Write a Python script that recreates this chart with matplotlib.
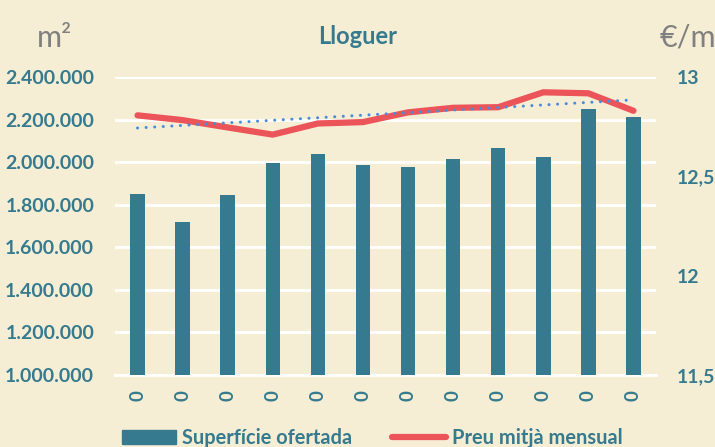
import numpy as np
import matplotlib.pyplot as plt
from matplotlib.ticker import FuncFormatter
from matplotlib.lines import Line2D
import matplotlib.patches as mpatches

# values
categories = ['0'] * 12
superficie = [1849000, 1721000, 1845000, 1995000, 2036000, 1986000,
              1977000, 2017000, 2065000, 2026000, 2252000, 2214000]
preu = [12.807, 12.783, 12.746, 12.71, 12.766, 12.773,
        12.822, 12.845, 12.848, 12.923, 12.918, 12.83]
left_ticks = [1000000, 1200000, 1400000, 1600000, 1800000, 2000000, 2200000, 2400000]
right_ticks = [11.5, 12, 12.5, 13]
right_labels = ['11,5', '12', '12,5', '13']

bg = '#F6EED4'
teal = '#357A8E'
red = '#EB5459'
blue = '#4A8BDB'

plt.rcParams['font.family'] = ['Lato', 'DejaVu Sans']

fig = plt.figure(figsize=(7.15, 4.47), dpi=100, facecolor=bg)
ax = fig.add_axes([115/715, 1-375/447, 541/715, 298/447])
ax.set_facecolor(bg)

x = np.arange(len(categories))
ax.bar(x, superficie, 0.32, color=teal, zorder=3)
ax.set_ylim(1000000, 2400000)
ax.set_xlim(-0.5, len(categories) - 0.5)
ax.set_yticks(left_ticks)
ax.yaxis.set_major_formatter(FuncFormatter(lambda v, p: f'{int(v):,}'.replace(',', '.')))
ax.grid(axis='y', color='white', lw=2, zorder=0)
ax.set_xticks(x)
ax.set_xticklabels(categories, rotation=90, fontsize=13.5, fontweight='bold', color=teal)
ax.tick_params(axis='both', length=0)
ax.tick_params(axis='y', labelsize=14, labelcolor=teal, pad=15)
ax.tick_params(axis='x', pad=11)
for lab in ax.get_yticklabels():
    lab.set_fontweight('bold')
for s in ['top', 'left', 'right']:
    ax.spines[s].set_visible(False)
ax.spines['bottom'].set_color('white')
ax.spines['bottom'].set_linewidth(2)

ax2 = ax.twinx()
ax2.plot(x, preu, color=red, lw=4.5, solid_capstyle='round', solid_joinstyle='round', zorder=4)
coef = np.polyfit(x, preu, 1)
ax2.plot(x, np.polyval(coef, x), color=blue, lw=2.2, linestyle=(0, (0.01, 2.8)),
         dash_capstyle='round', zorder=5)
ax2.set_ylim(11.5, 13)
ax2.set_yticks(right_ticks)
ax2.set_yticklabels(right_labels, fontsize=14, fontweight='bold', color=teal)
ax2.tick_params(axis='y', length=0, pad=15)
for s in ax2.spines.values():
    s.set_visible(False)

fig.text(0.5, 1-37/447, 'Lloguer', ha='center', va='center', fontsize=17,
         fontweight='bold', color=teal)
fig.text(37/715, 1-38/447, 'm²', ha='left', va='center', fontsize=22, color='#808080')
fig.text(660/715, 1-38/447, '€/m²', ha='left', va='center', fontsize=22, color='#808080')

handles = [mpatches.Patch(color=teal, label='Superfície ofertada'),
           Line2D([0], [0], color=red, lw=4.5, solid_capstyle='round', label='Preu mitjà mensual')]
fig.legend(handles=handles, loc='center', bbox_to_anchor=(372/715, 1-438/447), ncol=2,
           frameon=False, handlelength=2.7, handletextpad=0.3, columnspacing=2.0,
           prop={'weight': 'bold', 'size': 14.4}, labelcolor=teal)

fig.savefig('out.png', dpi=100, facecolor=bg)
